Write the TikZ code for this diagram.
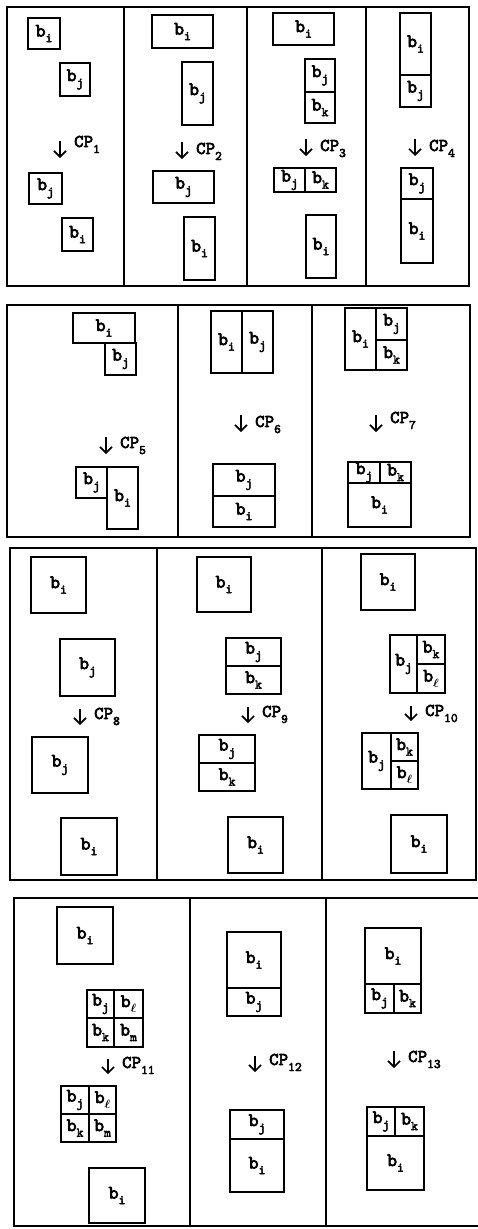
\documentclass[tikz,border=0pt]{standalone}
\usepackage{fontspec}
\newfontfamily\mono{lmmono10-regular.otf}[FakeBold=3.5]
\usetikzlibrary{arrows.meta}
\usepackage{amsmath}
\newcommand\ltr{\ensuremath{\boldsymbol{\ell}}}
\newcommand\bl[1]{{\mono\fontsize{19}{19}\selectfont b\raisebox{-5.5pt}{\fontsize{13}{13}\selectfont #1}}}
\newcommand\cpl[1]{{\mono\fontsize{18}{18}\selectfont CP\raisebox{-6pt}{\fontsize{13}{13}\selectfont #1}}}
\newcommand\bk[6]{\node[blk,minimum width={(#4-#2)*1pt},minimum height={(#5-#3)*1pt}] (#1) at ({(#2+#4)/2},{(#3+#5)/2}) {#6};}
\newcommand\arw[6]{\coordinate (#1s) at (#2,#3); \coordinate (#1e) at (#2,#4);
  \draw[cparr] (#1s) -- (#1e);
  \node[cplab] (#1l) at ({#2+14},#5) {\cpl{#6}};}
\tikzset{
  blk/.style={draw,line width=1.6pt,inner sep=0pt,outer sep=0pt,anchor=center},
  panel/.style={line width=1.4pt},
  cparr/.style={line width=1.6pt,-{Straight Barb[length=6pt,width=12pt,line width=1.6pt]}},
  cplab/.style={anchor=base west,inner sep=0pt}
}
\begin{document}
\begin{tikzpicture}[x=1pt,y=-1pt]
\fill[white] (0,0) rectangle (478,1229);
\useasboundingbox (0,0) rectangle (478,1229);
% panel 1
\draw[panel] (7,7) rectangle (469,286);
\draw[panel] (124,7) -- (124,286);
\draw[panel] (247,7) -- (247,286);
\draw[panel] (366,7) -- (366,286);
% panel 2
\draw[panel] (7,305) rectangle (470,537);
\draw[panel] (178,305) -- (178,537);
\draw[panel] (312,305) -- (312,537);
% panel 3
\draw[panel] (10,548) rectangle (476,880);
\draw[panel] (157,548) -- (157,880);
\draw[panel] (322,548) -- (322,880);
% panel 4
\draw[panel] (478,898) -- (14,898) -- (14,1226) -- (478,1226);
\draw[panel] (190,898) -- (190,1226);
\draw[panel] (326,898) -- (326,1226);

% CP1
\bk{p1a}{28}{18}{60}{49}{\bl i}
\bk{p1b}{60}{63}{90}{96}{\bl j}
\arw{a1}{60}{141}{158}{147}{1}
\bk{p1c}{29}{173}{62}{204}{\bl j}
\bk{p1d}{62}{218}{93}{251}{\bl i}
% CP2
\bk{p2a}{152}{15}{213}{48}{\bl i}
\bk{p2b}{182}{62}{213}{125}{\bl j}
\arw{a2}{182}{142}{159}{154}{2}
\bk{p2c}{153}{171}{214}{203}{\bl j}
\bk{p2d}{184}{217}{215}{280}{\bl i}
% CP3
\bk{p3a}{273}{13}{334}{45}{\bl i}
\bk{p3b}{305}{59}{335}{92}{\bl j}
\bk{p3c}{305}{92}{335}{123}{\bl k}
\arw{a3}{306}{139}{156}{151}{3}
\bk{p3d}{274}{168}{305}{192}{\bl j}
\bk{p3e}{305}{168}{336}{192}{\bl k}
\bk{p3f}{306}{215}{336}{278}{\bl i}
% CP4
\bk{p4a}{400}{13}{431}{75}{\bl i}
\bk{p4b}{400}{75}{431}{107}{\bl j}
\arw{a4}{415}{139}{156}{151}{4}
\bk{p4c}{401}{168}{433}{199}{\bl j}
\bk{p4d}{401}{199}{433}{263}{\bl i}

% CP5
\bk{p5a}{73}{313}{135}{343}{\bl i}
\bk{p5b}{105}{343}{136}{375}{\bl j}
\arw{a5}{106}{437}{454}{448}{5}
\bk{p5c}{76}{467}{107}{498}{\bl j}
\bk{p5d}{107}{467}{138}{529}{\bl i}
% CP6
\bk{p6a}{211}{311}{242}{373}{\bl i}
\bk{p6b}{242}{311}{273}{373}{\bl j}
\arw{a6}{241}{415}{432}{427}{6}
\bk{p6c}{213}{464}{275}{496}{\bl j}
\bk{p6d}{213}{496}{275}{527}{\bl i}
% CP7
\bk{p7a}{345}{308}{376}{370}{\bl i}
\bk{p7b}{376}{308}{407}{340}{\bl j}
\bk{p7c}{376}{340}{407}{370}{\bl k}
\arw{a7}{376}{415}{432}{423}{7}
\bk{p7d}{348}{462}{380}{483}{\bl j}
\bk{p7e}{380}{462}{411}{483}{\bl k}
\bk{p7f}{348}{483}{411}{527}{\bl i}

% CP8
\bk{p8a}{31}{557}{86}{613}{\bl i}
\bk{p8b}{60}{639}{115}{696}{\bl j}
\arw{a8}{80}{709}{725}{719}{8}
\bk{p8c}{32}{737}{88}{793}{\bl j}
\bk{p8d}{61}{818}{117}{875}{\bl i}
% CP9
\bk{p9a}{197}{557}{251}{612}{\bl i}
\bk{p9b}{226}{638}{281}{666}{\bl j}
\bk{p9c}{226}{666}{281}{694}{\bl k}
\arw{a9}{248}{707}{723}{717}{9}
\bk{p9d}{199}{735}{255}{763}{\bl j}
\bk{p9e}{199}{763}{255}{791}{\bl k}
\bk{p9f}{228}{817}{283}{873}{\bl i}
% CP10
\bk{q0a}{361}{554}{415}{610}{\bl i}
\bk{q0b}{390}{635}{417}{693}{\bl j}
\bk{q0c}{417}{635}{445}{664}{\bl k}
\bk{q0d}{417}{664}{445}{693}{\bl \ltr}
\arw{a10}{411}{706}{721}{716}{10}
\bk{q0e}{362}{733}{391}{789}{\bl j}
\bk{q0f}{391}{733}{418}{761}{\bl k}
\bk{q0g}{391}{761}{418}{789}{\bl \ltr}
\bk{q0h}{391}{815}{447}{873}{\bl i}

% CP11
\bk{q1a}{57}{907}{113}{964}{\bl i}
\bk{q1b}{87}{990}{114}{1018}{\bl j}
\bk{q1c}{114}{990}{143}{1018}{\bl \ltr}
\bk{q1d}{87}{1018}{114}{1047}{\bl k}
\bk{q1e}{114}{1018}{143}{1047}{\bl m}
\arw{a11}{108}{1059}{1074}{1068}{11}
\bk{q1f}{61}{1086}{89}{1114}{\bl j}
\bk{q1g}{89}{1086}{116}{1114}{\bl \ltr}
\bk{q1h}{61}{1114}{89}{1142}{\bl k}
\bk{q1i}{89}{1114}{116}{1142}{\bl m}
\bk{q1j}{89}{1168}{145}{1223}{\bl i}
% CP12
\bk{q2a}{227}{932}{281}{988}{\bl i}
\bk{q2b}{227}{988}{281}{1016}{\bl j}
\arw{a12}{255}{1056}{1072}{1065}{12}
\bk{q2c}{230}{1110}{284}{1139}{\bl j}
\bk{q2d}{230}{1139}{284}{1192}{\bl i}
% CP13
\bk{q3a}{365}{928}{421}{984}{\bl i}
\bk{q3b}{365}{984}{394}{1013}{\bl j}
\bk{q3c}{394}{984}{421}{1013}{\bl k}
\arw{a13}{394}{1051}{1068}{1062}{13}
\bk{q3d}{367}{1107}{395}{1136}{\bl j}
\bk{q3e}{395}{1107}{424}{1136}{\bl k}
\bk{q3f}{367}{1136}{424}{1190}{\bl i}
\end{tikzpicture}
\end{document}
